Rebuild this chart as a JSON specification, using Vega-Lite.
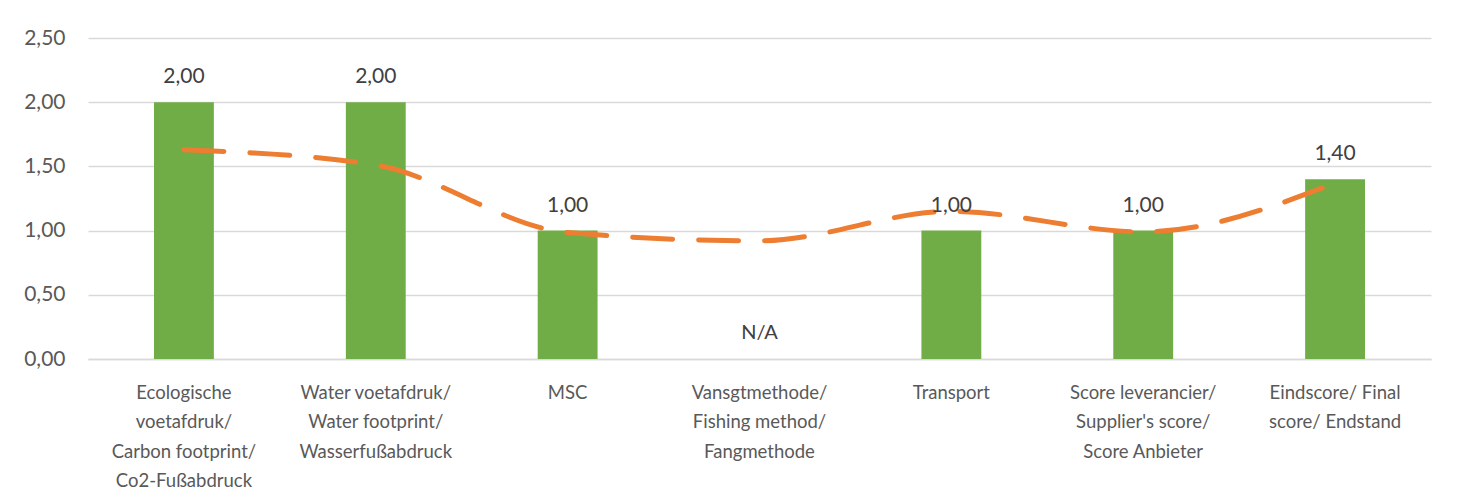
{
  "$schema": "https://vega.github.io/schema/vega-lite/v6.json",
  "autosize": "none",
  "width": 1343,
  "height": 321,
  "padding": {"left": 88, "top": 38, "right": 31, "bottom": 145},
  "background": "#ffffff",
  "config": {
    "locale": {"number": {"decimal": ",", "thousands": ".", "grouping": [3], "currency": ["", " €"]}},
    "view": {"stroke": null},
    "font": "Lato"
  },
  "data": {
    "values": [
      {"cat": "Ecologische|voetafdruk/|Carbon footprint/|Co2-Fußabdruck", "score": 2.0, "trend": 1.63},
      {"cat": "Water voetafdruk/|Water footprint/|Wasserfußabdruck", "score": 2.0, "trend": 1.51},
      {"cat": "MSC", "score": 1.0, "trend": 0.985},
      {"cat": "Vansgtmethode/|Fishing method/|Fangmethode", "score": null, "trend": 0.92},
      {"cat": "Transport", "score": 1.0, "trend": 1.15},
      {"cat": "Score leverancier/|Supplier's score/|Score Anbieter", "score": 1.0, "trend": 0.99},
      {"cat": "Eindscore/ Final|score/ Endstand", "score": 1.4, "trend": 1.37}
    ]
  },
  "encoding": {
    "x": {
      "field": "cat",
      "type": "nominal",
      "sort": [
        "Ecologische|voetafdruk/|Carbon footprint/|Co2-Fußabdruck",
        "Water voetafdruk/|Water footprint/|Wasserfußabdruck",
        "MSC",
        "Vansgtmethode/|Fishing method/|Fangmethode",
        "Transport",
        "Score leverancier/|Supplier's score/|Score Anbieter",
        "Eindscore/ Final|score/ Endstand"
      ],
      "scale": {"paddingInner": 0, "paddingOuter": 0},
      "axis": {
        "title": null,
        "labelAngle": 0,
        "labelExpr": "split(datum.label, '|')",
        "labelFont": "Lato",
        "labelFontSize": 18.5,
        "labelColor": "#595959",
        "labelLineHeight": 29.5,
        "labelPadding": 24,
        "labelBaseline": "top",
        "ticks": false,
        "domainColor": "#D9D9D9",
        "domainWidth": 1.3,
        "labelLimit": 300
      }
    }
  },
  "layer": [
    {
      "mark": {"type": "bar", "color": "#70AD47", "width": {"band": 0.312}},
      "encoding": {
        "y": {
          "field": "score",
          "type": "quantitative",
          "scale": {"domain": [0, 2.5], "nice": false},
          "axis": {
            "title": null,
            "values": [0, 0.5, 1, 1.5, 2, 2.5],
            "format": ".2f",
            "labelFont": "Lato",
            "labelFontSize": 21,
            "labelColor": "#595959",
            "labelPadding": 23,
            "ticks": false,
            "domain": false,
            "gridColor": "#D9D9D9",
            "gridWidth": 1.3
          }
        }
      }
    },
    {
      "mark": {
        "type": "line",
        "color": "#ED7D31",
        "strokeWidth": 5,
        "strokeDash": [40, 26],
        "strokeCap": "round",
        "interpolate": "monotone"
      },
      "encoding": {
        "y": {"field": "trend", "type": "quantitative"}
      }
    },
    {
      "transform": [{"filter": "datum.score != null"}],
      "mark": {"type": "text", "baseline": "middle", "dy": -25, "fontSize": 21, "color": "#404040", "font": "Lato"},
      "encoding": {
        "y": {"field": "score", "type": "quantitative"},
        "text": {"field": "score", "type": "quantitative", "format": ".2f"}
      }
    },
    {
      "transform": [{"filter": "datum.score == null"}],
      "mark": {"type": "text", "baseline": "middle", "dy": -26, "fontSize": 20, "color": "#404040", "font": "Lato", "text": "N/A"},
      "encoding": {
        "y": {"datum": 0}
      }
    }
  ]
}
